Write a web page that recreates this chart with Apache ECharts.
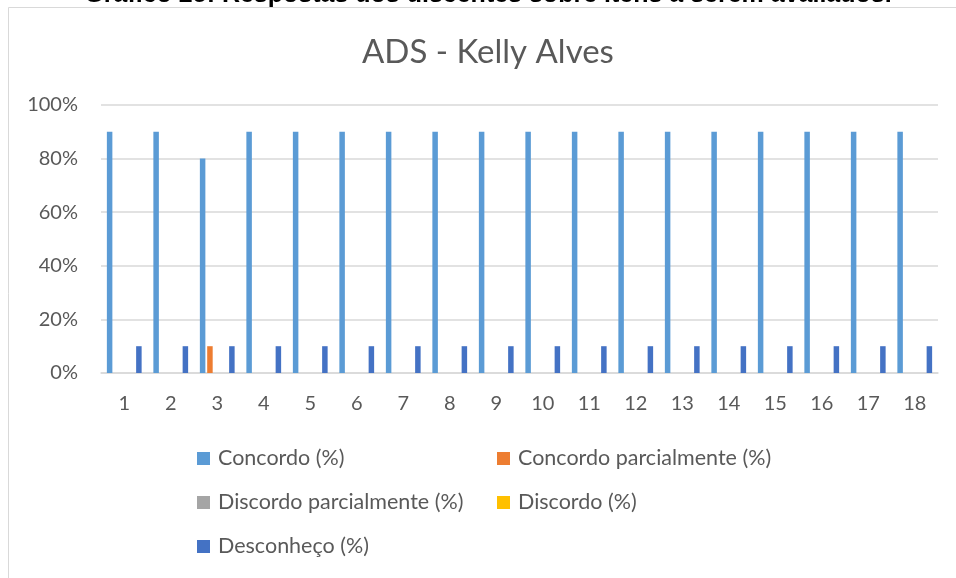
<!DOCTYPE html>
<html>
<head>
<meta charset="utf-8">
<script src="https://cdn.jsdelivr.net/npm/echarts@6/dist/echarts.min.js"></script>
<style>
  html, body { margin: 0; padding: 0; background: #fff; }
  #chart { width: 956px; height: 578px; }
</style>
</head>
<body>
<div id="chart"></div>
<script>
// itens avaliados 1..18
const categories = ["1", "2", "3", "4", "5", "6", "7", "8", "9", "10", "11", "12", "13", "14", "15", "16", "17", "18"]
const concordo = [90, 90, 80, 90, 90, 90, 90, 90, 90, 90, 90, 90, 90, 90, 90, 90, 90, 90]
const concordoParcial = [0, 0, 10, 0, 0, 0, 0, 0, 0, 0, 0, 0, 0, 0, 0, 0, 0, 0]
const discordoParcial = [0, 0, 0, 0, 0, 0, 0, 0, 0, 0, 0, 0, 0, 0, 0, 0, 0, 0]
const discordo = [0, 0, 0, 0, 0, 0, 0, 0, 0, 0, 0, 0, 0, 0, 0, 0, 0, 0]
const desconheco = [10, 10, 10, 10, 10, 10, 10, 10, 10, 10, 10, 10, 10, 10, 10, 10, 10, 10]
const yTicks = [0, 20, 40, 60, 80, 100]

const seriesNames = ["Concordo (%)", "Concordo parcialmente (%)", "Discordo parcialmente (%)", "Discordo (%)", "Desconheço (%)"]
const seriesData = [concordo, concordoParcial, discordoParcial, discordo, desconheco]
const colors = ["#5B9BD5", "#ED7D31", "#A5A5A5", "#FFC000", "#4472C4"]

const font = "Lato, 'Open Sans', sans-serif"
const grey = "#595959"

// legenda em 3 linhas / 2 colunas
const legendPos = [
  { left: 197, top: 445.5 },
  { left: 497, top: 445.5 },
  { left: 197, top: 489.5 },
  { left: 497, top: 489.5 },
  { left: 197, top: 533.5 }
]

const chart = echarts.init(document.getElementById("chart"))
chart.setOption({
  backgroundColor: "#fff",
  color: colors,
  title: {
    text: "ADS - Kelly Alves",
    left: 357,
    top: 31,
    textStyle: { fontFamily: font, fontSize: 33, fontWeight: "normal", color: grey }
  },
  graphic: [
    {
      type: "rect",
      shape: { x: 8.5, y: 7.5, width: 1000, height: 700 },
      style: { fill: "none", stroke: "#D9D9D9", lineWidth: 1 },
      silent: true
    },
    {
      // legenda da figura, cortada no topo
      type: "text",
      x: 488,
      y: 8,
      style: {
        text: "Gráfico 25: Respostas dos discentes sobre itens a serem avaliados.",
        font: "bold 25px 'Liberation Sans', Arial, sans-serif",
        fill: "#000",
        align: "center",
        verticalAlign: "bottom"
      },
      silent: true
    }
  ],
  legend: seriesNames.map((name, i) => ({
    data: [name],
    left: legendPos[i].left,
    top: legendPos[i].top,
    padding: 0,
    itemWidth: 13,
    itemHeight: 13,
    itemGap: 0,
    icon: "rect",
    selectedMode: false,
    textStyle: { fontFamily: font, fontSize: 21.5, lineHeight: 26, color: grey, padding: [0, 0, 0, 3] }
  })),
  grid: { left: 101, right: 18, top: 105, bottom: 205 },
  xAxis: {
    type: "category",
    data: categories,
    axisLine: { lineStyle: { color: "#D9D9D9", width: 1.5 } },
    axisTick: { show: false },
    axisLabel: { fontFamily: font, fontSize: 20, color: grey, margin: 21 }
  },
  yAxis: {
    type: "value",
    min: yTicks[0],
    max: yTicks[yTicks.length - 1],
    interval: yTicks[1] - yTicks[0],
    axisLine: { show: false },
    axisTick: { show: false },
    splitLine: { lineStyle: { color: "#D9D9D9", width: 1.5 } },
    axisLabel: { fontFamily: font, fontSize: 20, color: grey, margin: 23, formatter: "{value}%" }
  },
  series: seriesNames.map((name, i) => ({
    name: name,
    type: "bar",
    data: seriesData[i],
    barWidth: 5.5,
    barGap: "33%",
    itemStyle: { color: colors[i] }
  }))
})
</script>
</body>
</html>
